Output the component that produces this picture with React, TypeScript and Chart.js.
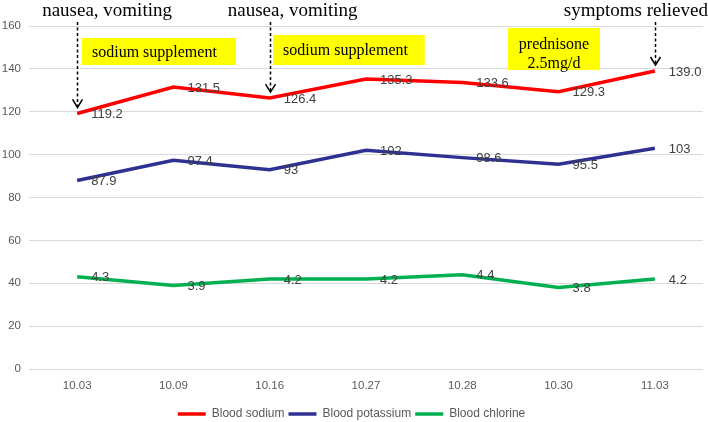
import React, { useEffect, useRef } from "react";
import { Chart, registerables } from "chart.js";

Chart.register(...registerables);

// Visit dates and lab results
const dates = ["10.03", "10.09", "10.16", "10.27", "10.28", "10.30", "11.03"];
const sodium = [119.2, 131.5, 126.4, 135.3, 133.6, 129.3, 139.0];
const potassium = [87.9, 97.4, 93, 102, 98.6, 95.5, 103];
const chlorine = [4.3, 3.9, 4.2, 4.2, 4.4, 3.8, 4.2];
const yTicks = [0, 20, 40, 60, 80, 100, 120, 140, 160];

// Clinical events marked with an arrow on the sodium curve
const eventTexts = ["nausea, vomiting", "nausea, vomiting", "symptoms relieved"];
const eventIndex = [0, 2, 6];
const eventTextShift = [-35, -42, -91];

// Treatments shown as yellow boxes (category span, value span)
const treatmentLines = [["sodium supplement"], ["sodium supplement"], ["prednisone", "2.5mg/d"]];
const treatmentFrom = [0.05, 2.035, 4.474];
const treatmentTo = [1.65, 3.61, 5.43];
const treatmentTop = [154.4, 155.8, 159.1];
const treatmentBottom = [141.8, 141.8, 139.5];

const SANS = "'Liberation Sans', Arial, sans-serif";
const SERIF = "'Liberation Serif', 'Times New Roman', serif";

const annotationPlugin = {
  id: "clinicalAnnotations",
  afterDatasetsDraw(chart: any) {
    const { ctx, scales } = chart;
    const x = scales.x;
    const y = scales.y;
    const top = chart.chartArea.top;
    ctx.save();

    // value labels next to each point
    ctx.font = `13px ${SANS}`;
    ctx.fillStyle = "#404040";
    ctx.textAlign = "left";
    ctx.textBaseline = "middle";
    chart.data.datasets.forEach((ds: any, di: number) => {
      const meta = chart.getDatasetMeta(di);
      meta.data.forEach((pt: any, i: number) => {
        const v = ds.data[i];
        const txt = di === 0 ? v.toFixed(1) : String(v);
        ctx.fillText(txt, pt.x + 14, pt.y + 1);
      });
    });

    // treatment boxes
    treatmentLines.forEach((lines, i) => {
      const l = x.getPixelForValue(treatmentFrom[i]);
      const r = x.getPixelForValue(treatmentTo[i]);
      const t = y.getPixelForValue(treatmentTop[i]);
      const b = y.getPixelForValue(treatmentBottom[i]);
      ctx.fillStyle = "#FFFF00";
      ctx.fillRect(l, t, r - l, b - t);
      ctx.fillStyle = "#000000";
      ctx.font = `16px ${SERIF}`;
      ctx.textBaseline = "alphabetic";
      if (lines.length === 1) {
        ctx.textAlign = "left";
        ctx.fillText(lines[0], l + 10, (t + b) / 2 + 5);
      } else {
        ctx.textAlign = "center";
        const cx = (l + r) / 2;
        const mid = (t + b) / 2;
        ctx.fillText(lines[0], cx, mid);
        ctx.fillText(lines[1], cx, mid + 19);
      }
    });

    // event arrows pointing at the sodium curve
    const sodiumMeta = chart.getDatasetMeta(0);
    eventTexts.forEach((txt, i) => {
      const pt = sodiumMeta.data[eventIndex[i]];
      const ax = Math.round(pt.x) + 0.5;
      const tipY = pt.y - 6;
      const startY = top - 4;
      ctx.strokeStyle = "#000000";
      ctx.lineWidth = 1.5;
      ctx.setLineDash([3, 2.5]);
      ctx.beginPath();
      ctx.moveTo(ax, startY);
      ctx.lineTo(ax, tipY - 1);
      ctx.stroke();
      ctx.setLineDash([]);
      ctx.beginPath();
      ctx.moveTo(ax - 5, tipY - 8);
      ctx.lineTo(ax, tipY);
      ctx.lineTo(ax + 5, tipY - 8);
      ctx.stroke();

      ctx.fillStyle = "#000000";
      ctx.font = `19px ${SERIF}`;
      ctx.textAlign = "left";
      ctx.textBaseline = "alphabetic";
      ctx.fillText(txt, pt.x + eventTextShift[i], top - 10);
    });

    ctx.restore();
  },
};

export default function App() {
  const canvasRef = useRef<HTMLCanvasElement | null>(null);

  useEffect(() => {
    if (!canvasRef.current) return;
    Chart.defaults.font.family = SANS;
    const chart = new Chart(canvasRef.current, {
      type: "line",
      data: {
        labels: dates,
        datasets: [
          {
            label: "Blood sodium",
            data: sodium,
            borderColor: "#FF0000",
            backgroundColor: "#FF0000",
            borderWidth: 3.5,
            pointRadius: 0,
            tension: 0,
            yAxisID: "y",
          },
          {
            label: "Blood potassium",
            data: potassium,
            borderColor: "#2E3192",
            backgroundColor: "#2E3192",
            borderWidth: 3.5,
            pointRadius: 0,
            tension: 0,
            yAxisID: "y",
          },
          {
            // chlorine is plotted on a tenfold-compressed axis
            label: "Blood chlorine",
            data: chlorine,
            borderColor: "#00B050",
            backgroundColor: "#00B050",
            borderWidth: 3.5,
            pointRadius: 0,
            tension: 0,
            yAxisID: "y2",
          },
        ],
      },
      options: {
        responsive: false,
        animation: false,
        devicePixelRatio: 1,
        layout: { padding: { top: 26, right: 5, left: 0, bottom: 0 } },
        plugins: {
          tooltip: { enabled: false },
          legend: {
            position: "bottom",
            labels: {
              usePointStyle: true,
              pointStyle: "line",
              pointStyleWidth: 28,
              padding: 4,
              color: "#595959",
              font: { size: 12, family: SANS },
            },
          },
        },
        scales: {
          x: {
            offset: true,
            grid: { display: false, drawTicks: false },
            border: { display: false },
            ticks: { color: "#595959", font: { size: 11.5, family: SANS }, padding: 10 },
            afterFit: (s: any) => {
              s.height = 35;
            },
          },
          y: {
            min: 0,
            max: 160,
            afterBuildTicks: (s: any) => {
              s.ticks = yTicks.map((v) => ({ value: v }));
            },
            grid: { color: "#D9D9D9", lineWidth: 1, drawTicks: false },
            border: { display: false },
            ticks: { color: "#595959", font: { size: 11.5, family: SANS }, padding: 8 },
            afterFit: (s: any) => {
              s.width = 29;
            },
          },
          y2: {
            display: false,
            min: 0,
            max: 16,
          },
        },
      },
      plugins: [annotationPlugin],
    });
    return () => chart.destroy();
  }, []);

  return (
    <div
      style={{
        position: "fixed",
        left: 0,
        top: 0,
        width: 708,
        height: 422,
        overflow: "hidden",
        background: "#ffffff",
      }}
    >
      <canvas ref={canvasRef} width={708} height={430} style={{ display: "block" }} />
    </div>
  );
}
